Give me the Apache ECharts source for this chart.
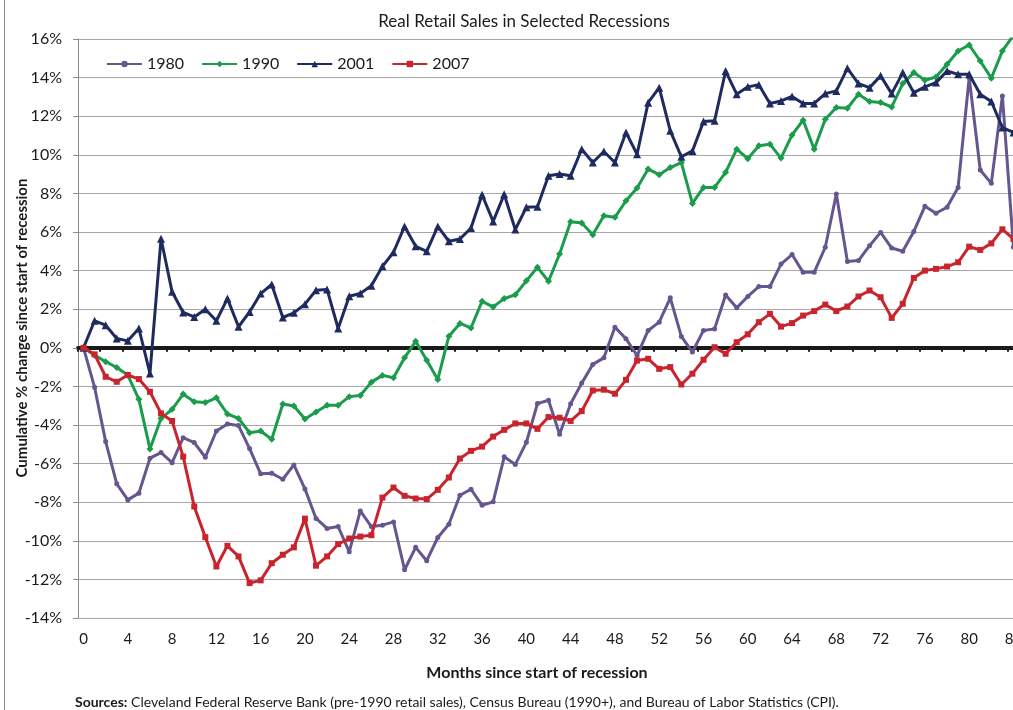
<!DOCTYPE html>
<html>
<head>
<meta charset="utf-8">
<title>Real Retail Sales in Selected Recessions</title>
<script src="https://cdn.jsdelivr.net/npm/echarts@6/dist/echarts.min.js"></script>
<style>
  html, body { margin: 0; padding: 0; background: #fff; }
  #chart { width: 1013px; height: 710px; }
</style>
</head>
<body>
<div id="chart"></div>
<script>
// months since start of recession, 0..84
const months = []
for (let m = 0; m <= 84; m++) months.push(String(m))

const seriesNames = ['1980', '1990', '2001', '2007']

const s1980 = [0, -2.05, -4.86, -7.05, -7.88, -7.53, -5.72, -5.43, -5.95, -4.66,
  -4.91, -5.67, -4.31, -3.95, -4.03, -5.22, -6.53, -6.50, -6.81, -6.07,
  -7.31, -8.84, -9.36, -9.26, -10.57, -8.45, -9.26, -9.19, -9.02, -11.5,
  -10.34, -11.03, -9.83, -9.14, -7.64, -7.33, -8.16, -7.98, -5.65, -6.05,
  -4.9, -2.89, -2.72, -4.48, -2.9, -1.83, -0.86, -0.52, 1.07, 0.47,
  -0.4, 0.9, 1.33, 2.59, 0.59, -0.22, 0.9, 0.98, 2.74, 2.07,
  2.66, 3.17, 3.17, 4.34, 4.83, 3.91, 3.91, 5.21, 7.97, 4.47,
  4.52, 5.29, 5.98, 5.17, 5.0, 6.03, 7.33, 6.97, 7.28, 8.31,
  14.0, 9.21, 8.52, 13.05, 5.21]

const s1990 = [0, -0.38, -0.72, -1.02, -1.41, -2.67, -5.24, -3.66, -3.19, -2.4,
  -2.79, -2.84, -2.59, -3.43, -3.66, -4.4, -4.31, -4.74, -2.91, -3.02,
  -3.69, -3.33, -2.98, -2.98, -2.53, -2.47, -1.78, -1.43, -1.55, -0.52,
  0.34, -0.64, -1.64, 0.6, 1.26, 1.03, 2.41, 2.12, 2.55, 2.75,
  3.47, 4.17, 3.45, 4.86, 6.53, 6.47, 5.86, 6.84, 6.76, 7.62,
  8.28, 9.26, 8.97, 9.34, 9.6, 7.48, 8.31, 8.31, 9.09, 10.29,
  9.8, 10.47, 10.55, 9.83, 11.03, 11.79, 10.29, 11.84, 12.45, 12.41,
  13.14, 12.76, 12.71, 12.48, 13.69, 14.26, 13.86, 14.03, 14.69, 15.38,
  15.69, 14.86, 13.97, 15.38, 16.2]

const s2001 = [0, 1.4, 1.17, 0.48, 0.36, 1.0, -1.33, 5.65, 2.9, 1.83,
  1.6, 2.0, 1.4, 2.55, 1.09, 1.86, 2.81, 3.28, 1.57, 1.81,
  2.26, 2.98, 3.02, 1.0, 2.67, 2.81, 3.22, 4.22, 4.95, 6.29,
  5.26, 5.0, 6.29, 5.52, 5.64, 6.21, 7.93, 6.55, 7.95, 6.13,
  7.28, 7.31, 8.91, 9.0, 8.91, 10.29, 9.6, 10.17, 9.6, 11.16,
  10.03, 12.7, 13.48, 11.24, 9.9, 10.2, 11.72, 11.76, 14.34, 13.14,
  13.52, 13.63, 12.66, 12.79, 13.02, 12.66, 12.66, 13.17, 13.31, 14.48,
  13.69, 13.48, 14.09, 13.17, 14.26, 13.22, 13.52, 13.74, 14.34, 14.17,
  14.17, 13.14, 12.76, 11.41, 11.16]

const s2007 = [0, -0.34, -1.5, -1.76, -1.41, -1.62, -2.28, -3.4, -3.79, -5.64,
  -8.22, -9.81, -11.33, -10.26, -10.81, -12.19, -12.05, -11.16, -10.72, -10.34,
  -8.85, -11.29, -10.81, -10.17, -9.88, -9.78, -9.71, -7.76, -7.24, -7.67,
  -7.81, -7.84, -7.36, -6.72, -5.74, -5.34, -5.12, -4.6, -4.25, -3.92,
  -3.92, -4.2, -3.59, -3.62, -3.79, -3.28, -2.21, -2.17, -2.38, -1.66,
  -0.66, -0.57, -1.09, -1.0, -1.9, -1.34, -0.62, 0.03, -0.31, 0.29,
  0.7, 1.33, 1.76, 1.1, 1.28, 1.67, 1.9, 2.24, 1.9, 2.14,
  2.66, 2.97, 2.62, 1.55, 2.28, 3.62, 4.0, 4.09, 4.21, 4.43,
  5.24, 5.07, 5.41, 6.14, 5.64]

const seriesData = [s1980, s1990, s2001, s2007]
const colors = ['#66568f', '#1b9c4b', '#1f2b5f', '#c9242e']
const symbols = ['circle', 'diamond', 'triangle', 'rect']
const symbolSizes = [5, 7, 8, 6]

const font = 'Lato, "Open Sans", sans-serif'

const chart = echarts.init(document.getElementById('chart'))

const option = {
  backgroundColor: '#ffffff',
  animation: false,
  textStyle: { fontFamily: font },
  title: {
    text: 'Real Retail Sales in Selected Recessions',
    left: 519,
    top: 8,
    textAlign: 'center',
    textStyle: { fontFamily: font, fontSize: 17, fontWeight: 'normal', color: '#1a1a1a' }
  },
  legend: {
    data: seriesNames,
    left: 101,
    top: 51,
    itemWidth: 35,
    itemHeight: 8,
    itemGap: 17,
    textStyle: { fontFamily: font, fontSize: 16, color: '#1a1a1a' }
  },
  grid: {
    left: 78,
    top: 39,
    bottom: 92,
    width: 941,
    containLabel: false,
    outerBoundsMode: 'none'
  },
  xAxis: [
    {
      type: 'category',
      data: months,
      boundaryGap: true,
      position: 'bottom',
      axisLine: { show: false, onZero: false },
      axisTick: { show: false },
      axisLabel: {
        interval: 3,
        margin: 14,
        fontFamily: font,
        fontSize: 15,
        color: '#1a1a1a'
      },
      splitLine: { show: false }
    },
    {
      // thick zero line with tick marks every 2 months
      type: 'category',
      data: months,
      boundaryGap: true,
      position: 'bottom',
      axisLine: { show: true, onZero: true, onZeroAxisIndex: 0, lineStyle: { color: '#1a1a1a', width: 4 } },
      axisTick: { show: true, interval: 1, length: 4, lineStyle: { color: '#1a1a1a', width: 2 } },
      axisLabel: { show: false },
      splitLine: { show: false }
    }
  ],
  yAxis: {
    type: 'value',
    min: -14,
    max: 16,
    interval: 2,
    axisLine: { show: true, lineStyle: { color: '#8c8c8c', width: 1 } },
    axisTick: { show: true, length: 5, lineStyle: { color: '#8c8c8c' } },
    axisLabel: {
      formatter: '{value}%',
      margin: 16,
      fontFamily: font,
      fontSize: 16,
      color: '#1a1a1a'
    },
    splitLine: { show: true, lineStyle: { color: '#a6a6a6', width: 1 } }
  },
  series: seriesNames.map((name, i) => ({
    name: name,
    type: 'line',
    xAxisIndex: 0,
    data: seriesData[i],
    color: colors[i],
    symbol: symbols[i],
    symbolSize: symbolSizes[i],
    showAllSymbol: true,
    lineStyle: { width: 3, color: colors[i] },
    itemStyle: { color: colors[i] },
    clip: true,
    z: 3 + i
  })),
  graphic: [
    {
      type: 'line',
      shape: { x1: 4.5, y1: 0, x2: 4.5, y2: 710 },
      style: { stroke: '#8c8c8c', lineWidth: 1 }
    },
    {
      type: 'text',
      x: 22,
      y: 328,
      rotation: Math.PI / 2,
      style: {
        text: 'Cumulative % change since start of recession',
        font: 'bold 15px ' + font,
        fill: '#1a1a1a',
        textAlign: 'center',
        textVerticalAlign: 'middle'
      }
    },
    {
      type: 'text',
      x: 537,
      y: 673,
      style: {
        text: 'Months since start of recession',
        font: 'bold 16px ' + font,
        fill: '#1a1a1a',
        textAlign: 'center',
        textVerticalAlign: 'middle'
      }
    },
    {
      type: 'text',
      x: 75,
      y: 702,
      style: {
        text: '{b|Sources:} Cleveland Federal Reserve Bank (pre-1990 retail sales), Census Bureau (1990+), and Bureau of Labor Statistics (CPI).',
        font: '14px ' + font,
        fill: '#1a1a1a',
        textVerticalAlign: 'middle',
        rich: {
          b: { fontWeight: 'bold', fontSize: 14, fontFamily: font, fill: '#1a1a1a' }
        }
      }
    }
  ]
}

chart.setOption(option)
</script>
</body>
</html>
